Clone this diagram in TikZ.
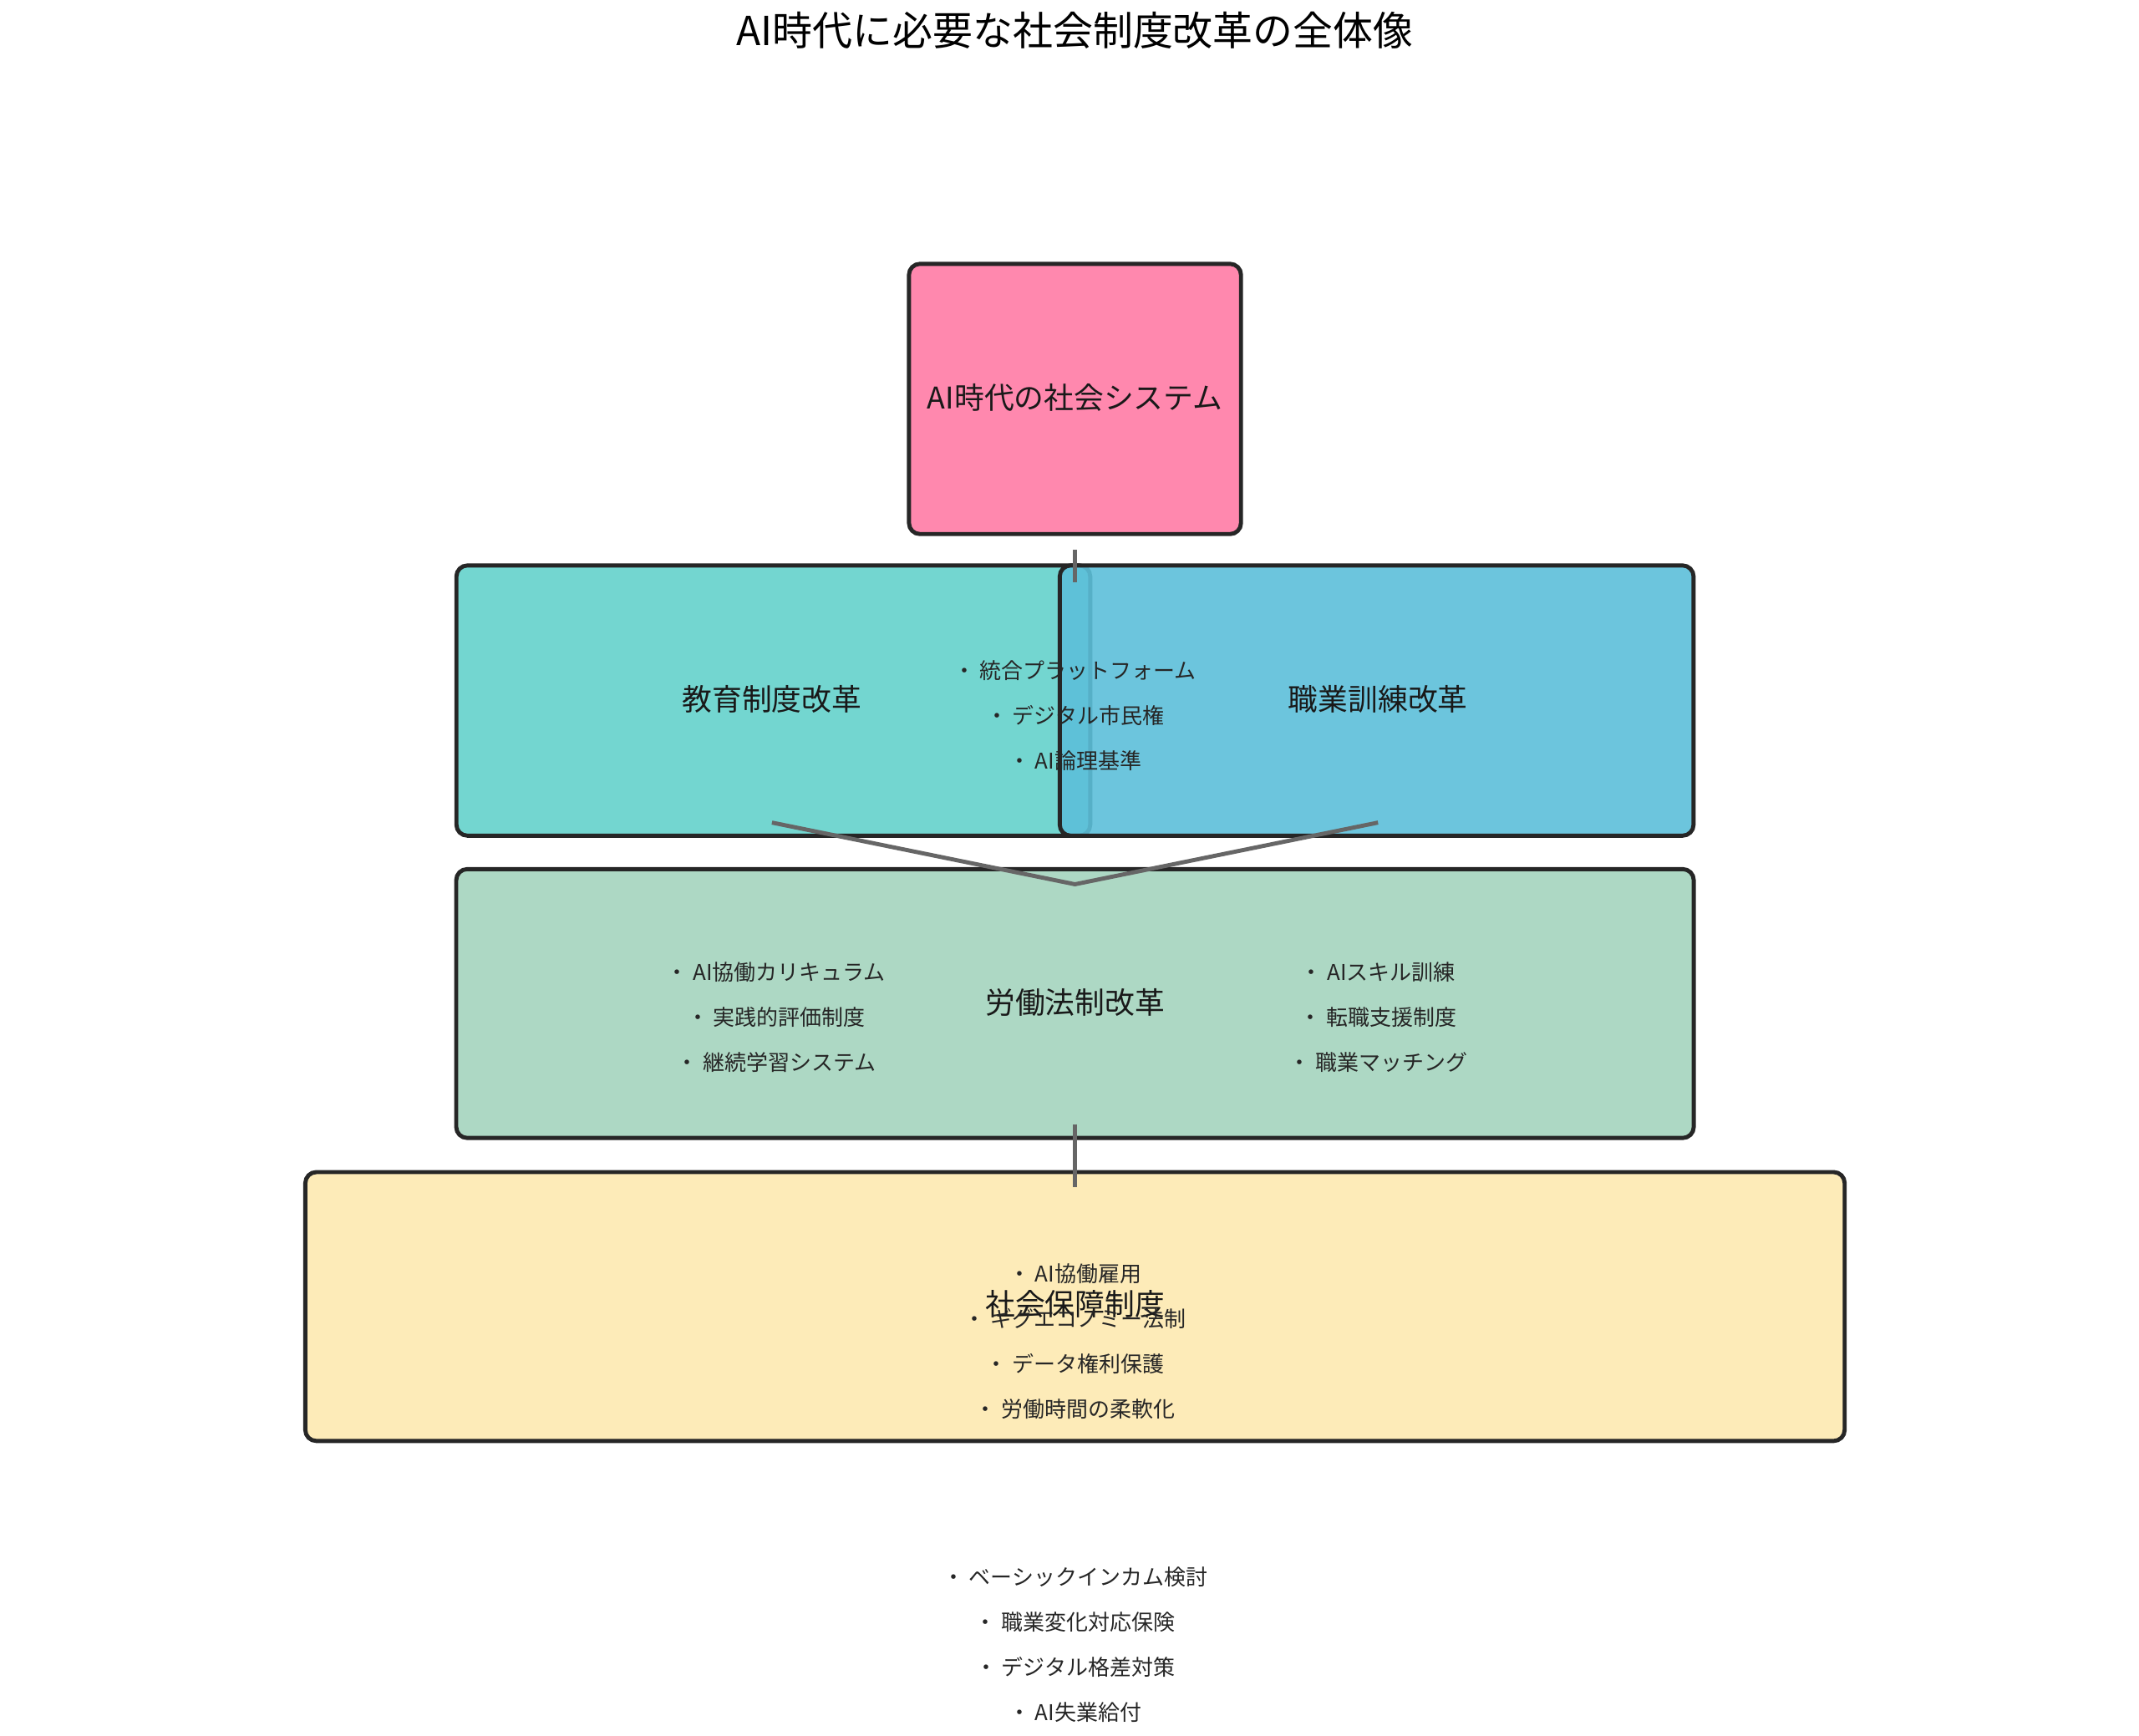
\documentclass[tikz,border=0pt]{standalone}
\usepackage{fontspec}
\setmainfont{Noto Sans CJK JP}
\definecolor{pinkbox}{HTML}{FF88AE}
\definecolor{tealbox}{HTML}{73D6D0}
\definecolor{bluebox}{HTML}{5CBFD9}
\definecolor{greenbox}{HTML}{ADD8C4}
\definecolor{yellowbox}{HTML}{FDEBB8}
\tikzstyle{box}=[draw=black!85,line width=0.85pt,rounded corners=0.08cm,inner sep=0pt]
\tikzstyle{label}=[font=\fontsize{6.2}{8}\selectfont,text=black!90]
\tikzstyle{item}=[font=\fontsize{4.5}{6}\selectfont,text=black!85]
\tikzstyle{link}=[draw=black!60,line width=0.85pt]
\begin{document}
\begin{tikzpicture}[x=0.01cm,y=-0.01cm]
\useasboundingbox (0,0) rectangle (1560,1266);

\node[font=\fontsize{8.3}{10}\selectfont] (title) at (784,22) {AI時代に必要な社会制度改革の全体像};

\node[box,fill=pinkbox,minimum width=2.42cm,minimum height=1.97cm] (sys) at (784,291) {};
\node[label] (syst) at (784,290) {AI時代の社会システム};

\node[box,fill=tealbox,minimum width=4.62cm,minimum height=1.97cm] (edu) at (564,511) {};
\node[box,fill=bluebox,fill opacity=0.9,minimum width=4.62cm,minimum height=1.97cm] (job) at (1004,511) {};
\node[label] (edut) at (563,510) {教育制度改革};
\node[label] (jobt) at (1005,510) {職業訓練改革};

\node[box,fill=greenbox,minimum width=9.02cm,minimum height=1.96cm] (law) at (784,732) {};
\node[label] (lawt) at (784,731) {労働法制改革};

\node[box,fill=yellowbox,minimum width=11.22cm,minimum height=1.96cm] (soc) at (784,953) {};
\node[label] (soct) at (784,951) {社会保障制度};

% items
\foreach \t [count=\i] in {統合プラットフォーム,デジタル市民権,AI論理基準}
  \node[item] (mid\i) at (784,456+33*\i) {・ \t};
\foreach \t [count=\i] in {AI協働カリキュラム,実践的評価制度,継続学習システム}
  \node[item] (left\i) at (566,676+33*\i) {・ \t};
\foreach \t [count=\i] in {AIスキル訓練,転職支援制度,職業マッチング}
  \node[item] (right\i) at (1005,676+33*\i) {・ \t};
\foreach \t [count=\i] in {AI協働雇用,ギグエコノミー法制,データ権利保護,労働時間の柔軟化}
  \node[item] (low\i) at (784,896+33*\i) {・ \t};
\foreach \t [count=\i] in {ベーシックインカム検討,職業変化対応保険,デジタル格差対策,AI失業給付}
  \node[item] (base\i) at (784,1117+33*\i) {・ \t};

% connectors
\coordinate (a1) at (784,401);
\coordinate (a2) at (784,425);
\coordinate (b1) at (563,600);
\coordinate (b2) at (784,645);
\coordinate (b3) at (1005,600);
\coordinate (c1) at (784,820);
\coordinate (c2) at (784,866);
\path[link] (a1) -- (a2);
\path[link] (b1) -- (b2) -- (b3);
\path[link] (c1) -- (c2);

\end{tikzpicture}
\end{document}
